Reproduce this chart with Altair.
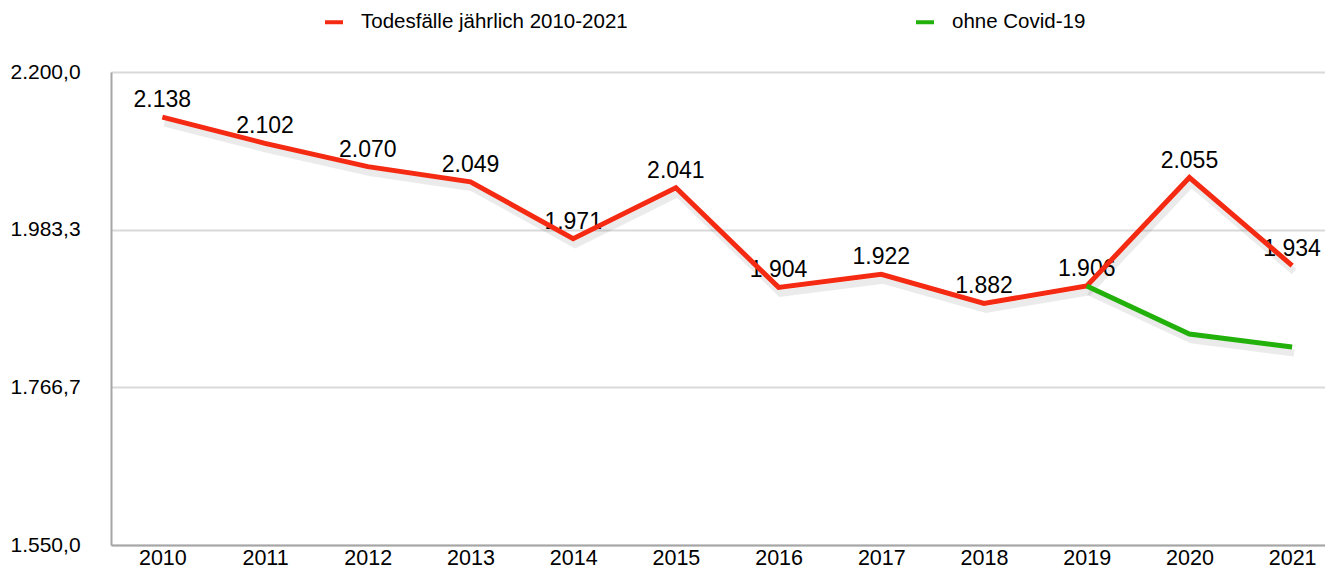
import altair as alt
import pandas as pd

years = [2010, 2011, 2012, 2013, 2014, 2015, 2016, 2017, 2018, 2019, 2020, 2021]
deaths = [2138, 2102, 2070, 2049, 1971, 2041, 1904, 1922, 1882, 1906, 2055, 1934]
green_years = [2019, 2020, 2021]
green_vals = [1906, 1840, 1822]

s_red = "Todesfälle jährlich 2010-2021"
s_green = "ohne Covid-19"
y_ticks = [1550, 1766.6667, 1983.3333, 2200]

rows = [{"year": y, "value": v, "series": s_red} for y, v in zip(years, deaths)]
rows += [{"year": y, "value": v, "series": s_green} for y, v in zip(green_years, green_vals)]
df = pd.DataFrame(rows)

lab = pd.DataFrame({"year": years, "value": deaths,
                    "label": [f"{v:,}".replace(",", ".") for v in deaths]})

FONT = "Liberation Sans"

x = alt.X("year:Q",
          scale=alt.Scale(domain=[2009.5, 2021.32], nice=False, zero=False),
          axis=alt.Axis(values=years, format="d", title=None, grid=False, ticks=False,
                        labelFontSize=21.5, labelFont=FONT, labelColor="#000",
                        labelBaseline="alphabetic", labelPadding=19,
                        domainColor="#a6a6a6", domainWidth=2,
                        labelFlush=False, labelOverlap=False))
y = alt.Y("value:Q",
          scale=alt.Scale(domain=[1550, 2200], nice=False, zero=False),
          axis=alt.Axis(values=y_ticks, title=None, ticks=False, grid=True,
                        gridColor="#d9d9d9", gridWidth=2,
                        domainColor="#a6a6a6", domainWidth=2,
                        labelFontSize=21, labelFont=FONT, labelColor="#000",
                        labelAlign="left", labelPadding=101, labelBaseline="middle",
                        labelFlush=False,
                        labelExpr="replace(replace(replace(format(datum.value, ',.1f'), ',', '_'), '.', ','), '_', '.')"))

color = alt.Color("series:N",
                  scale=alt.Scale(domain=[s_red, s_green], range=["#f52a12", "#22b00a"]),
                  legend=alt.Legend(title=None, orient="none", legendX=212, legendY=-61,
                                    direction="horizontal", symbolType="stroke",
                                    symbolStrokeWidth=4, symbolSize=324,
                                    labelFontSize=20.5, labelFont=FONT, labelColor="#000",
                                    labelOffset=16, columnPadding=280, labelLimit=500))

text = alt.Chart(lab).mark_text(fontSize=23, font=FONT, color="#000", dy=-17,
                                baseline="middle").encode(
    x=alt.X("year:Q"), y=alt.Y("value:Q"), text="label:N")

shadow = alt.Chart(df).mark_line(strokeWidth=7, color="#000", opacity=0.08,
                                 xOffset=2, yOffset=6, strokeJoin="miter").encode(
    x=alt.X("year:Q"), y=alt.Y("value:Q"), detail="series:N")

lines = alt.Chart(df).mark_line(strokeWidth=5, strokeJoin="miter").encode(
    x=x, y=y, color=color, detail="series:N", order="year:Q")

chart = alt.layer(text, shadow, lines).properties(
    width=1214, height=473,
    padding={"left": 103, "top": 64, "right": 0, "bottom": 25},
    autosize=alt.AutoSizeParams(type="none"),
).configure_view(stroke=None).configure(font=FONT, background="white")

chart.save("out.html", embed_options={"renderer": "svg", "actions": False})
